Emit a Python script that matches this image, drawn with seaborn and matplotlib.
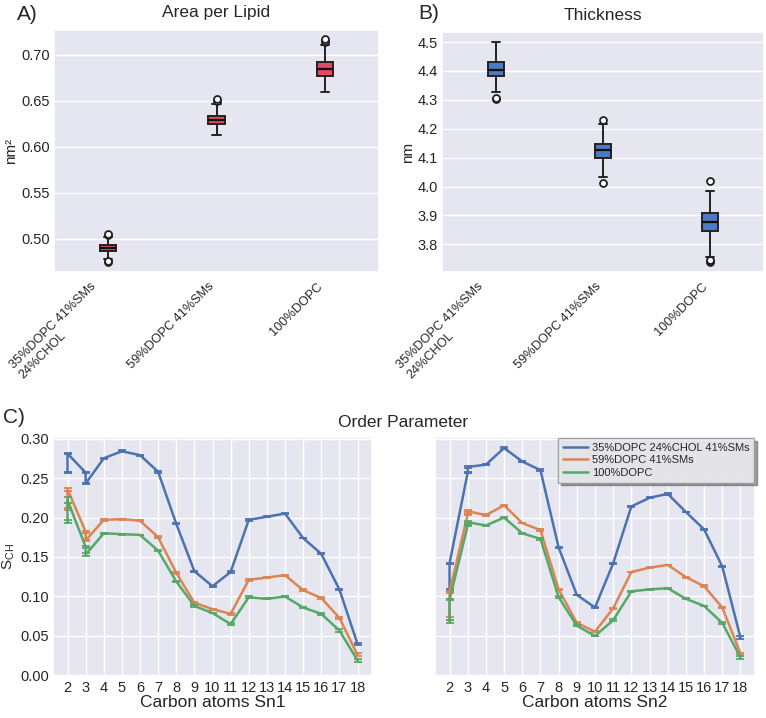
import numpy as np
import pandas as pd
import matplotlib
matplotlib.use("Agg")
import matplotlib.pyplot as plt
import seaborn as sns

# ---------------- data ----------------
systems = ["35%DOPC 41%SMs\n24%CHOL", "59%DOPC 41%SMs", "100%DOPC"]
legend_labels = ["35%DOPC 24%CHOL 41%SMs", "59%DOPC 41%SMs", "100%DOPC"]

# Area per lipid samples (nm^2)
apl_35 = [0.4748, 0.4757, 0.4786, 0.4830, 0.4865, 0.4875, 0.4883, 0.4890, 0.4896,
          0.4903, 0.4910, 0.4920, 0.4930, 0.4960, 0.5020, 0.5040, 0.5050]
apl_59 = [0.6130, 0.6170, 0.6200, 0.6230, 0.6250, 0.6265, 0.6275, 0.6285, 0.6292,
          0.6300, 0.6310, 0.6325, 0.6340, 0.6400, 0.6466, 0.6500, 0.6515]
apl_100 = [0.6600, 0.6650, 0.6700, 0.6740, 0.6775, 0.6795, 0.6815, 0.6830, 0.6844,
           0.6860, 0.6875, 0.6895, 0.6917, 0.7109, 0.7140, 0.7155, 0.7170]

# Thickness samples (nm)
thk_35 = [4.303, 4.307, 4.327, 4.360, 4.382, 4.390, 4.396, 4.401, 4.405,
          4.410, 4.416, 4.423, 4.431, 4.450, 4.470, 4.490, 4.500]
thk_59 = [4.0133, 4.0329, 4.060, 4.085, 4.0986, 4.108, 4.115, 4.120, 4.1251,
          4.130, 4.136, 4.142, 4.1482, 4.170, 4.195, 4.2174, 4.229]
thk_100 = [3.7388, 3.742, 3.745, 3.756, 3.8449, 3.855, 3.863, 3.870, 3.8772,
           3.885, 3.893, 3.900, 3.9083, 3.930, 3.955, 3.9844, 4.0179]

# Order parameters (carbon 2 and 3 have two hydrogens each)
carbons = [2, 2, 3, 3, 4, 5, 6, 7, 8, 9, 10, 11, 12, 13, 14, 15, 16, 17, 18]

sn1_35 = [0.257, 0.281, 0.257, 0.243, 0.275, 0.284, 0.279, 0.258, 0.192, 0.132,
          0.113, 0.131, 0.197, 0.201, 0.205, 0.174, 0.154, 0.109, 0.040]
sn1_59 = [0.211, 0.236, 0.182, 0.171, 0.197, 0.198, 0.196, 0.175, 0.130, 0.092,
          0.084, 0.078, 0.121, 0.124, 0.127, 0.108, 0.098, 0.073, 0.026]
sn1_100 = [0.195, 0.222, 0.163, 0.153, 0.180, 0.179, 0.178, 0.158, 0.119, 0.088,
           0.079, 0.065, 0.099, 0.097, 0.100, 0.086, 0.078, 0.057, 0.019]
sn1_35_err = [0.001, 0.001, 0.001, 0.001, 0.001, 0.001, 0.0005, 0.001, 0.0005, 0.0005,
              0.0005, 0.001, 0.001, 0.0005, 0.001, 0.0005, 0.0005, 0.001, 0.001]
sn1_59_err = [0.001, 0.002, 0.001, 0.001, 0.001, 0.0005, 0.0005, 0.001, 0.001, 0.001,
              0.0005, 0.001, 0.001, 0.0005, 0.0005, 0.001, 0.001, 0.001, 0.002]
sn1_100_err = [0.002, 0.004, 0.001, 0.002, 0.001, 0.0005, 0.0005, 0.001, 0.001, 0.001,
               0.0005, 0.001, 0.001, 0.0005, 0.0005, 0.0005, 0.001, 0.002, 0.002]

sn2_35 = [0.108, 0.142, 0.257, 0.264, 0.267, 0.288, 0.271, 0.260, 0.162, 0.102,
          0.086, 0.142, 0.214, 0.225, 0.230, 0.207, 0.185, 0.138, 0.048]
sn2_59 = [0.072, 0.106, 0.204, 0.208, 0.203, 0.2155, 0.193, 0.184, 0.109, 0.0665,
          0.0555, 0.085, 0.131, 0.1365, 0.140, 0.1245, 0.113, 0.086, 0.028]
sn2_100 = [0.068, 0.096, 0.190, 0.194, 0.190, 0.200, 0.180, 0.173, 0.099, 0.063,
           0.050, 0.070, 0.1065, 0.109, 0.1105, 0.097, 0.088, 0.0665, 0.023]
sn2_35_err = [0.001, 0.001, 0.001, 0.001, 0.001, 0.001, 0.0005, 0.001, 0.001, 0.0005,
              0.0005, 0.001, 0.001, 0.0005, 0.001, 0.0005, 0.0005, 0.001, 0.002]
sn2_59_err = [0.002, 0.001, 0.001, 0.001, 0.001, 0.001, 0.0005, 0.001, 0.001, 0.001,
              0.0005, 0.001, 0.0005, 0.0005, 0.0005, 0.0005, 0.001, 0.001, 0.001]
sn2_100_err = [0.002, 0.001, 0.001, 0.001, 0.001, 0.001, 0.0005, 0.001, 0.001, 0.001,
               0.0005, 0.001, 0.0005, 0.001, 0.0005, 0.0005, 0.0005, 0.001, 0.002]

carbon_ticks = list(range(2, 19))
line_colors = ["#4C72B0", "#DD8452", "#55A868"]
apl_color = "#df4a63"
thk_color = "#4a7bc4"

# ---------------- style ----------------
sns.set_theme(style="darkgrid")
plt.rcParams["font.family"] = ["Liberation Sans", "DejaVu Sans"]
plt.rcParams["axes.facecolor"] = "#e5e6ef"

fig = plt.figure(figsize=(7.66, 7.18), dpi=100)
W, H = 766.0, 718.0


def add_ax(l, t, r, b):
    return fig.add_axes([l / W, 1 - b / H, (r - l) / W, (b - t) / H])


axA = add_ax(54, 30, 379, 272)
axB = add_ax(442, 32, 764, 272)
axC1 = add_ax(53, 437, 372, 677)
axC2 = add_ax(435, 437, 755, 677)

flier = dict(marker="o", markerfacecolor="white", markeredgecolor="#222222",
             markersize=5, markeredgewidth=1.3)


def box_panel(ax, samples, color, ylim, yticks, ylabel, title):
    df = pd.DataFrame({
        "system": np.repeat(systems, [len(s) for s in samples]),
        "value": np.concatenate(samples),
    })
    sns.boxplot(data=df, x="system", y="value", order=systems, ax=ax,
                color=color, saturation=1, width=0.15, linewidth=1.4,
                linecolor="#222222", flierprops=flier,
                medianprops=dict(color="#111111", linewidth=1.6))
    ax.set_ylim(*ylim)
    ax.set_yticks(yticks)
    ax.set_xlim(-0.5, 2.5)
    ax.set_xlabel("")
    ax.set_ylabel(ylabel, fontsize=11, labelpad=2)
    ax.set_title(title, fontsize=12.5, pad=9)
    ax.set_xticks(range(3))
    ax.set_xticklabels(systems, rotation=45, ha="right", fontsize=9.2,
                       multialignment="left")
    ax.tick_params(axis="both", length=0)
    ax.tick_params(axis="y", labelsize=10.5, pad=3)
    ax.tick_params(axis="x", pad=6)


box_panel(axA, [apl_35, apl_59, apl_100], apl_color, (0.464, 0.727),
          [0.50, 0.55, 0.60, 0.65, 0.70], "nm²", "Area per Lipid")
axA.yaxis.set_major_formatter(matplotlib.ticker.FormatStrFormatter("%.2f"))
box_panel(axB, [thk_35, thk_59, thk_100], thk_color, (3.704, 4.535),
          [3.8, 3.9, 4.0, 4.1, 4.2, 4.3, 4.4, 4.5], "nm", "Thickness")
axB.yaxis.set_major_formatter(matplotlib.ticker.FormatStrFormatter("%.1f"))


def order_panel(ax, series, errs, xlabel):
    handles = []
    for vals, err, col, lab in zip(series, errs, line_colors, legend_labels):
        sns.lineplot(x=carbons, y=vals, ax=ax, color=col, estimator=None,
                     sort=False, linewidth=1.8, legend=False)
        handles.append(matplotlib.lines.Line2D([], [], color=col, lw=1.8, label=lab))
        ax.errorbar(carbons, vals, yerr=err, fmt="none", ecolor=col,
                    elinewidth=1.3, capsize=3, capthick=1.3)
    ax.set_xlim(1.2, 18.8)
    ax.set_ylim(-0.002, 0.302)
    ax.set_xticks(carbon_ticks)
    ax.set_yticks([0.0, 0.05, 0.10, 0.15, 0.20, 0.25, 0.30])
    ax.yaxis.set_major_formatter(matplotlib.ticker.FormatStrFormatter("%.2f"))
    ax.tick_params(axis="both", length=0, labelsize=10.5, pad=3)
    ax.set_xlabel(xlabel, fontsize=12.5, labelpad=0)
    return handles


order_panel(axC1, [sn1_35, sn1_59, sn1_100], [sn1_35_err, sn1_59_err, sn1_100_err],
            "Carbon atoms Sn1")
axC1.set_ylabel(r"$\mathregular{S_{CH}}$", fontsize=11, labelpad=2)
handles = order_panel(axC2, [sn2_35, sn2_59, sn2_100],
                      [sn2_35_err, sn2_59_err, sn2_100_err], "Carbon atoms Sn2")
axC2.set_ylabel("")
axC2.tick_params(axis="y", labelleft=False)
leg = axC2.legend(handles=handles, loc="upper right", fontsize=8, frameon=True,
                  fancybox=False, shadow=True, framealpha=0.9, facecolor="#ececf1",
                  edgecolor="#999999", borderaxespad=0.1, handlelength=2.3,
                  handletextpad=0.3, labelspacing=0.25, borderpad=0.4)

fig.text(17 / W, 1 - 20 / H, "A)", fontsize=15, ha="left", va="baseline")
fig.text(418 / W, 1 - 19 / H, "B)", fontsize=15, ha="left", va="baseline")
fig.text(3 / W, 1 - 423 / H, "C)", fontsize=15, ha="left", va="baseline")
fig.text(403 / W, 1 - 427 / H, "Order Parameter", fontsize=12.5, ha="center",
         va="baseline")

fig.savefig("out.png", dpi=100)
